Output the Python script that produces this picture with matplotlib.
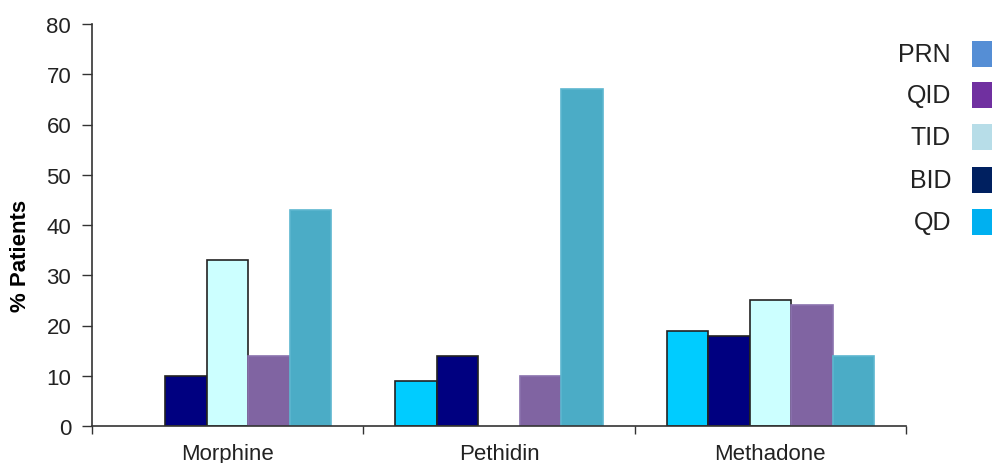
import numpy as np
import matplotlib.pyplot as plt
from matplotlib.patches import Rectangle

plt.rcParams['font.family'] = ['Liberation Sans', 'DejaVu Sans']

drugs = ["Morphine", "Pethidin", "Methadone"]
series = ["QD", "BID", "TID", "QID", "PRN"]
values = {
    "QD": [0, 9, 19],
    "BID": [10, 14, 18],
    "TID": [33, 0, 25],
    "QID": [14, 10, 24],
    "PRN": [43, 67, 14],
}
bar_colors = ["#00ccff", "#000080", "#ccffff", "#8064a2", "#4bacc6"]
edge_colors = ["#222222", "#222222", "#222222", "#8a72ae", "#5cb6cf"]
legend_colors = ["#00b0f0", "#002060", "#b7dde8", "#7030a0", "#558ed5"]
yticks = [0, 10, 20, 30, 40, 50, 60, 70, 80]

fig = plt.figure(figsize=(9.92, 4.64), dpi=100)
ax = fig.add_axes([92 / 992, 37 / 464, (906 - 92) / 992, (427 - 25) / 464])

x = np.arange(len(drugs))
w = 0.153
for i, s in enumerate(series):
    vals = np.array(values[s], dtype=float)
    keep = vals > 0
    ax.bar((x + (i - 2) * w)[keep], vals[keep], width=w, color=bar_colors[i],
           edgecolor=edge_colors[i], linewidth=1.2, zorder=2)

ax.set_xlim(-0.5, len(drugs) - 0.5)
ax.set_ylim(0, 80)
ax.set_yticks(yticks)
ax.set_xticks(x)
ax.set_xticklabels(drugs, fontsize=16, color="#222222")
ax.set_xticks(np.arange(len(drugs) + 1) - 0.5, minor=True)
ax.tick_params(axis="x", which="major", length=0, pad=12)
ax.tick_params(axis="x", which="minor", length=6, width=1, color="#333333")
ax.tick_params(axis="y", length=7, width=1, color="#333333", labelsize=16,
               labelcolor="#222222", pad=8)
ax.set_ylabel("% Patients", fontsize=16, fontweight="bold")
ax.yaxis.set_label_coords(-61 / 814, 0.425)
for sp in ["top", "right"]:
    ax.spines[sp].set_visible(False)
for sp in ["left", "bottom"]:
    ax.spines[sp].set_color("#333333")
    ax.spines[sp].set_linewidth(1.2)

# legend drawn by hand, boxes run off the right edge like the original
rows_y = [55, 96, 138, 181, 223]
for j, i in enumerate(reversed(range(len(series)))):
    yc = 1 - rows_y[j] / 464
    fig.text(951 / 992, yc, series[i], ha="right", va="center",
             fontsize=18, color="#222222")
    fig.add_artist(Rectangle((972 / 992, yc - 13 / 464), 40 / 992, 26 / 464,
                             transform=fig.transFigure, facecolor=legend_colors[i],
                             edgecolor="none"))

fig.savefig("out.png", dpi=100)
